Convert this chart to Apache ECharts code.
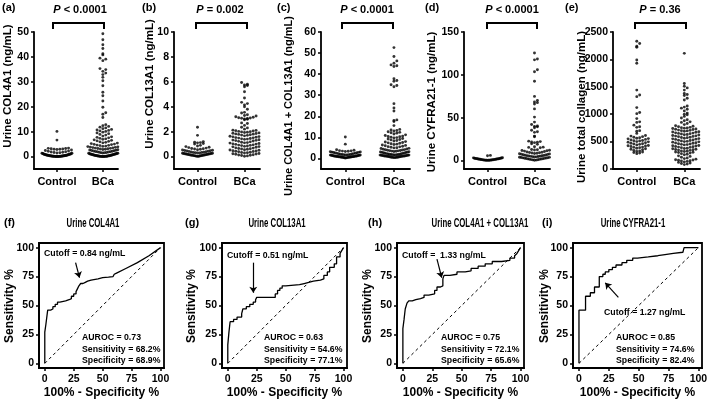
<!DOCTYPE html>
<html>
<head>
<meta charset="utf-8">
<script src="https://cdn.jsdelivr.net/npm/echarts@6/dist/echarts.min.js"></script>
<style>
html, body { margin: 0; padding: 0; background: #fff; }
#chart { width: 709px; height: 401px; }
</style>
</head>
<body>
<div id="chart"></div>
<script>
// ---- data ----
var groupNames = ['Control', 'BCa'];

var col4a1Control = [10.1, 6.6, 3.4, 3.3, 3.2, 3.1, 3.0, 2.9, 2.9, 2.8, 2.6, 2.4, 2.2, 2.1, 1.9, 1.8, 1.7, 1.6, 1.5, 1.4, 1.3, 1.3, 1.2, 1.1, 1.0, 1.0, 0.9, 0.9, 0.8, 0.8, 0.7, 0.7, 0.6, 0.6, 0.5, 0.5, 0.5, 0.4, 0.4, 0.4, 0.3, 0.3, 0.3, 0.3, 0.2, 0.2, 0.2, 0.2, 0.1, 0.1, 0.1, 0.1, 0.1, 0.05, 0.05, 0.05, 0.02, 0.02, 0.02, 0.01, 0.0];
var col4a1BCa = [49.3, 46.9, 44.9, 43.4, 41.3, 40.8, 39.5, 39.1, 38.5, 35.3, 34.9, 34.2, 33.5, 32.9, 31.8, 30.4, 28.4, 25.8, 24.4, 22.3, 19.8, 17.6, 17.0, 15.7, 12.8, 12.4, 12.1, 11.8, 11.5, 11.2, 10.9, 10.7, 10.5, 10.3, 10.1, 9.8, 9.5, 9.2, 8.9, 8.6, 8.2, 7.9, 7.7, 7.5, 7.3, 7.1, 6.9, 6.7, 6.5, 6.3, 6.1, 5.9, 5.7, 5.5, 5.4, 5.2, 5.0, 4.9, 4.8, 4.6, 4.5, 4.4, 4.2, 4.1, 4.0, 3.9, 3.8, 3.7, 3.6, 3.5, 3.4, 3.3, 3.2, 3.1, 3.0, 2.9, 2.8, 2.7, 2.6, 2.5, 2.4, 2.3, 2.2, 2.1, 2.0, 1.9, 1.9, 1.8, 1.7, 1.6, 1.5, 1.5, 1.4, 1.3, 1.3, 1.2, 1.1, 1.1, 1.0, 1.0, 0.9, 0.9, 0.8, 0.8, 0.7, 0.7, 0.6, 0.6, 0.5, 0.5, 0.4, 0.4, 0.4, 0.3, 0.3, 0.3, 0.2, 0.2, 0.2, 0.1, 0.1, 0.1, 0.05, 0.05, 0.05, 0.02, 0.02, 0.01, 0.0];

var col13a1Control = [2.35, 1.7, 1.2, 1.15, 1.12, 1.1, 1.05, 1.0, 0.9, 0.85, 0.8, 0.75, 0.72, 0.68, 0.65, 0.62, 0.6, 0.58, 0.55, 0.53, 0.5, 0.48, 0.46, 0.44, 0.42, 0.4, 0.38, 0.36, 0.35, 0.33, 0.32, 0.3, 0.29, 0.28, 0.27, 0.26, 0.25, 0.24, 0.23, 0.22, 0.21, 0.2, 0.19, 0.18, 0.17, 0.16, 0.15, 0.14, 0.13, 0.12, 0.11, 0.1, 0.09, 0.08, 0.07, 0.06, 0.05, 0.04, 0.03, 0.02, 0.01];
var col13a1BCa = [5.95, 5.8, 5.75, 5.7, 5.6, 5.2, 4.7, 4.35, 4.25, 4.15, 4.0, 3.8, 3.55, 3.5, 3.35, 3.3, 3.25, 3.2, 3.15, 3.12, 3.1, 3.08, 3.05, 3.02, 3.0, 2.95, 2.7, 2.65, 2.5, 2.35, 2.3, 2.2, 2.12, 2.1, 2.08, 2.05, 2.02, 2.0, 1.98, 1.95, 1.93, 1.9, 1.87, 1.85, 1.82, 1.8, 1.78, 1.75, 1.72, 1.7, 1.66, 1.63, 1.6, 1.58, 1.55, 1.52, 1.5, 1.48, 1.45, 1.42, 1.4, 1.38, 1.35, 1.32, 1.3, 1.28, 1.25, 1.22, 1.18, 1.15, 1.12, 1.1, 1.08, 1.05, 1.02, 1.0, 0.98, 0.94, 0.92, 0.9, 0.88, 0.85, 0.82, 0.8, 0.78, 0.75, 0.7, 0.68, 0.65, 0.62, 0.6, 0.58, 0.55, 0.52, 0.5, 0.46, 0.44, 0.42, 0.4, 0.38, 0.35, 0.32, 0.3, 0.28, 0.25, 0.22, 0.2, 0.18, 0.15, 0.12, 0.1, 0.08, 0.05, 0.02];

var sumControl = [10.2, 6.8, 4.1, 3.9, 3.7, 3.6, 3.5, 3.4, 3.3, 3.2, 3.1, 3.0, 2.9, 2.8, 2.7, 2.6, 2.5, 2.4, 2.3, 2.2, 2.1, 2.0, 1.9, 1.9, 1.8, 1.8, 1.7, 1.7, 1.6, 1.6, 1.5, 1.5, 1.4, 1.4, 1.3, 1.3, 1.2, 1.2, 1.1, 1.1, 1.0, 1.0, 0.95, 0.9, 0.9, 0.85, 0.8, 0.8, 0.75, 0.7, 0.7, 0.65, 0.6, 0.6, 0.55, 0.5, 0.45, 0.4, 0.35, 0.3, 0.2];
var sumBCa = [52.6, 48.4, 46.3, 45.2, 44.4, 44.0, 43.6, 37.8, 37.0, 36.6, 35.0, 34.6, 34.0, 26.0, 24.0, 22.5, 18.3, 18.0, 17.5, 15.6, 13.8, 13.5, 13.3, 13.0, 12.7, 12.4, 12.2, 12.0, 11.6, 11.2, 10.9, 10.6, 10.4, 10.3, 10.1, 9.9, 9.7, 9.5, 9.2, 9.0, 8.8, 8.5, 8.3, 8.0, 7.8, 7.6, 7.4, 7.2, 7.0, 6.8, 6.6, 6.4, 6.2, 6.0, 5.8, 5.6, 5.5, 5.3, 5.1, 5.0, 4.8, 4.7, 4.5, 4.4, 4.2, 4.1, 4.0, 3.9, 3.8, 3.7, 3.6, 3.5, 3.4, 3.3, 3.2, 3.1, 3.0, 2.9, 2.8, 2.7, 2.6, 2.5, 2.4, 2.3, 2.2, 2.1, 2.0, 2.0, 1.9, 1.9, 1.8, 1.8, 1.7, 1.7, 1.6, 1.6, 1.5, 1.5, 1.4, 1.4, 1.3, 1.3, 1.2, 1.2, 1.1, 1.1, 1.0, 1.0, 0.9, 0.9, 0.8, 0.8, 0.7, 0.7, 0.6, 0.6, 0.5, 0.5, 0.4, 0.4];

var cyfraControl = [5.9, 5.5, 3.2, 3.0, 2.8, 2.6, 2.5, 2.4, 2.2, 2.1, 2.0, 1.9, 1.8, 1.7, 1.6, 1.5, 1.4, 1.3, 1.2, 1.1, 1.0, 0.9, 0.8, 0.7, 0.6, 0.5, 0.45, 0.4, 0.35, 0.3, 0.25, 0.2, 0.15, 0.1];
var cyfraBCa = [125.4, 118.5, 117.5, 106.0, 103.5, 92.5, 74.8, 70.0, 68.2, 67.5, 66.0, 60.2, 50.6, 44.8, 42.0, 40.3, 39.8, 39.2, 38.2, 35.2, 33.5, 32.8, 28.4, 27.6, 22.5, 22.0, 21.6, 21.2, 20.8, 19.5, 18.8, 15.9, 15.5, 15.2, 14.8, 12.8, 12.5, 12.2, 11.9, 11.6, 11.3, 10.9, 10.5, 9.8, 9.5, 9.2, 9.0, 8.7, 8.4, 8.1, 7.8, 7.5, 7.2, 6.9, 6.6, 6.3, 6.0, 5.8, 5.6, 5.4, 5.2, 5.0, 4.8, 4.6, 4.4, 4.2, 4.0, 3.8, 3.6, 3.4, 3.2, 3.0, 2.8, 2.6, 2.4, 2.2, 2.0, 1.8, 1.6, 1.4, 1.2, 1.0, 0.8, 0.6, 0.4, 0.2];

var collagenControl = [2330, 2290, 2240, 2220, 1990, 1930, 1440, 1350, 1320, 1120, 1030, 1010, 920, 860, 850, 800, 770, 760, 700, 690, 650, 610, 600, 590, 580, 570, 560, 555, 550, 540, 530, 520, 515, 510, 500, 495, 490, 480, 470, 460, 455, 450, 440, 430, 425, 420, 410, 400, 395, 390, 380, 370, 360, 350, 340, 330, 320, 310, 300, 290, 280];
var collagenBCa = [2110, 1560, 1510, 1480, 1440, 1380, 1360, 1340, 1290, 1260, 1150, 1130, 1110, 1090, 1060, 1020, 1000, 990, 960, 930, 900, 880, 860, 850, 830, 810, 790, 780, 770, 760, 755, 750, 745, 740, 730, 725, 720, 710, 705, 700, 695, 690, 680, 675, 670, 660, 655, 650, 645, 640, 630, 625, 620, 610, 605, 600, 595, 590, 580, 575, 570, 560, 555, 550, 545, 540, 530, 525, 520, 510, 505, 500, 495, 490, 480, 475, 470, 460, 455, 450, 445, 440, 430, 425, 420, 410, 405, 400, 395, 390, 380, 375, 370, 360, 355, 350, 345, 340, 330, 325, 320, 310, 305, 300, 290, 280, 270, 260, 240, 230, 215, 200, 190, 180, 170, 165, 160, 150, 145, 140, 130, 120, 110, 100, 90, 80];

var col4a1Ticks = [0, 10, 20, 30, 40, 50];
var col13a1Ticks = [0, 2, 4, 6, 8, 10];
var sumTicks = [0, 10, 20, 30, 40, 50, 60];
var cyfraTicks = [0, 50, 100, 150];
var collagenTicks = [0, 500, 1000, 1500, 2000, 2500];
var rocTicks = [0, 25, 50, 75, 100];

// ROC curves: [100% - specificity, sensitivity]
var rocCol4a1 = [[0, 0], [0, 27], [1, 27], [1, 34], [2.5, 34], [2.5, 46], [5, 46], [5, 47], [7, 47], [7, 49], [9, 49], [9, 51], [11, 51], [11, 53], [13, 53], [13, 54], [18, 54], [18, 55], [21, 55], [21, 56], [23, 56], [23, 58], [25, 58], [25, 60], [27, 60], [27, 62], [28.5, 62], [28.5, 65], [29.5, 65], [29.5, 67], [31, 67], [31, 69], [33, 69], [33, 70], [35, 70], [35, 71], [37, 71], [37, 72], [40, 72], [40, 73], [46, 73], [50, 74], [55, 74.5], [59, 75], [60, 77], [62, 78], [70, 82], [80, 87], [90, 93], [100, 100]];
var rocCol13a1 = [[0, 0], [0, 16], [1, 16], [1, 27], [2, 27], [2, 36], [5, 36], [5, 38], [8, 38], [8, 40], [12, 40], [12, 43], [13, 43], [13, 47], [16, 47], [16, 49], [19, 49], [19, 51], [22, 51], [22, 53], [24, 53], [24, 55], [25, 55], [25, 57], [41, 57], [41, 60], [43, 60], [43, 63], [45, 63], [45, 65], [47, 65], [47, 67], [50, 67], [50, 68], [62, 68], [62, 69], [66, 69], [66, 70], [70, 70], [70, 71], [74, 71], [74, 72], [80, 72], [80, 73], [83, 73], [83, 76], [86, 76], [86, 79], [88, 79], [88, 83], [92, 83], [92, 86], [94, 86], [94, 92], [97, 92], [97, 95], [100, 100]];
var rocSum = [[0, 0], [0, 30], [1, 30], [1, 38], [2, 38], [2, 47], [3.5, 47], [3.5, 52], [5, 52], [5, 54], [8, 54], [8, 55], [11, 55], [11, 56], [15, 56], [15, 57], [18, 57], [18, 59], [22, 59], [22, 60], [27, 60], [27, 63], [29, 63], [29, 66], [32, 66], [32, 67], [34, 67], [34, 73], [35, 73], [35, 76], [40, 76], [40, 77], [46, 77], [46, 79], [53, 79], [53, 80], [58, 80], [58, 82], [64, 82], [64, 84], [70, 84], [70, 86], [76, 86], [76, 88], [84, 88], [84, 89], [91, 89], [91, 91], [95, 91], [95, 93], [97, 95], [100, 100]];
var rocCyfra = [[0, 0], [0, 46], [5.5, 46], [5.5, 58], [9.5, 58], [9.5, 61], [13, 61], [13, 66], [17, 66], [17, 75], [20, 75], [20, 77], [22, 77], [22, 79], [25, 79], [25, 81], [28, 81], [28, 83], [31, 83], [31, 85], [36, 85], [36, 87], [40, 87], [40, 89], [45, 89], [45, 91], [49, 91], [49, 92], [58, 92], [58, 93], [66, 93], [66, 94], [72, 94], [72, 95], [79, 95], [79, 96], [87, 96], [87, 97], [88, 97], [88, 100], [100, 100]];
var diagonal = [[0, 0], [100, 100]];

// cutoff arrows (tail, tip) in plot units
var arrowCol4a1 = [[26.6, 87], [30, 74]];
var arrowCol13a1 = [[22, 87], [22, 61]];
var arrowSum = [[29, 90], [33, 74]];
var arrowCyfra = [[33, 57], [22, 69.6]];

var statsCol4a1 = ['AUROC = 0.73', 'Sensitivity = 68.2%', 'Specificity = 68.9%'];
var statsCol13a1 = ['AUROC = 0.63', 'Sensitivity = 54.6%', 'Specificity = 77.1%'];
var statsSum = ['AUROC = 0.75', 'Sensitivity = 72.1%', 'Specificity = 65.6%'];
var statsCyfra = ['AUROC = 0.85', 'Sensitivity = 74.6%', 'Specificity = 82.4%'];

// ---- layout ----
var FONT = '"Liberation Sans", Arial, sans-serif';
var X_MIN = 0.5, X_MAX = 2.33;
var TOP = 32, BOTTOM = 169;
var ROW_PX = 3.4, DOT_STEP = 2.9, MAX_HALF = 15;

var scatterPanels = [
    { letter: '(a)', yName: 'Urine COL4A1 (ng/mL)', pText: '< 0.0001', control: col4a1Control, bca: col4a1BCa, ticks: col4a1Ticks, yMin: -5, yMax: 50,
      left: 34, width: 84, letterX: 2, pX: 80, bracket: [53, 104], nameX: 8, nameY: 86, nameSize: 11.5 },
    { letter: '(b)', yName: 'Urine COL13A1 (ng/mL)', pText: '= 0.002', control: col13a1Control, bca: col13a1BCa, ticks: col13a1Ticks, yMin: -1, yMax: 10,
      left: 174, width: 86, letterX: 142, pX: 220, bracket: [196, 247], nameX: 150, nameY: 84, nameSize: 11.5 },
    { letter: '(c)', yName: 'Urine COL4A1 + COL13A1 (ng/mL)', pText: '< 0.0001', control: sumControl, bca: sumBCa, ticks: sumTicks, yMin: -5, yMax: 60,
      left: 321, width: 89, letterX: 277, pX: 367, bracket: [342, 393], nameX: 289, nameY: 106, nameSize: 11 },
    { letter: '(d)', yName: 'Urine CYFRA21-1 (ng/mL)', pText: '< 0.0001', control: cyfraControl, bca: cyfraBCa, ticks: cyfraTicks, yMin: -10, yMax: 150,
      left: 464, width: 86, letterX: 425, pX: 512, bracket: [487, 537], nameX: 432, nameY: 102, nameSize: 11.5 },
    { letter: '(e)', yName: 'Urine total collagen (ng/mL)', pText: '= 0.36', control: collagenControl, bca: collagenBCa, ticks: collagenTicks, yMin: 0, yMax: 2500,
      left: 613, width: 87, letterX: 565, pX: 660, bracket: [635, 686], nameX: 582, nameY: 107, nameSize: 11.5 }
];

var rocPanels = [
    { letter: '(f)', title: 'Urine COL4A1', curve: rocCol4a1, arrow: arrowCol4a1, cutoff: 'Cutoff = 0.84 ng/mL', stats: statsCol4a1,
      left: 39, width: 125, letterX: 4, titleX: 93, cutoffX: 44, cutoffY: 253, statsX: 82, nameX: 10 },
    { letter: '(g)', title: 'Urine COL13A1', curve: rocCol13a1, arrow: arrowCol13a1, cutoff: 'Cutoff = 0.51 ng/mL', stats: statsCol13a1,
      left: 222, width: 125, letterX: 185, titleX: 277, cutoffX: 227, cutoffY: 255, statsX: 264, nameX: 192 },
    { letter: '(h)', title: 'Urine COL4A1 + COL13A1', curve: rocSum, arrow: arrowSum, cutoff: 'Cutoff =  1.33 ng/mL', stats: statsSum,
      left: 397, width: 127, letterX: 368, titleX: 480, cutoffX: 402, cutoffY: 255, statsX: 441, nameX: 368 },
    { letter: '(i)', title: 'Urine CYFRA21-1', curve: rocCyfra, arrow: arrowCyfra, cutoff: 'Cutoff = 1.27 ng/mL', stats: statsCyfra,
      left: 573, width: 129, letterX: 542, titleX: 633, cutoffX: 604, cutoffY: 312, statsX: 616, nameX: 545 }
];

/**
 * Prism-like dot layout: values binned in rows, spread sideways from the group centre
 */
function swarm(values, center, pxX, pxY) {
    var sorted = values.slice().sort(function(a, b) { return a - b; });
    var rows = {};
    sorted.forEach(function(v) {
        var k = Math.floor(v * pxY / ROW_PX);
        (rows[k] = rows[k] || []).push(v);
    });
    var points = [];
    Object.keys(rows).forEach(function(k) {
        var row = rows[k];
        var half = Math.ceil((row.length - 1) / 2);
        var step = half > 0 ? Math.min(DOT_STEP, MAX_HALF / half) : 0;
        row.forEach(function(v, i) {
            var j = Math.ceil(i / 2) * (i % 2 ? 1 : -1);
            points.push([center + j * step / pxX, v]);
        });
    });
    return points;
}

function axisStyle(ticks) {
    return {
        axisLine: { show: true, onZero: false, lineStyle: { color: '#000', width: 1.8 } },
        axisTick: { show: true, length: 3, customValues: ticks, lineStyle: { color: '#000', width: 1.5 } },
        splitLine: { show: false },
        axisLabel: {
            customValues: ticks, margin: 5, color: '#000', fontWeight: 'bold', fontSize: 10.5, fontFamily: FONT,
            formatter: function(v) { return String(v); }
        }
    };
}

function txt(x, y, text, size, opts) {
    opts = opts || {};
    return {
        type: 'text', x: x, y: y, rotation: opts.rotation || 0, scaleX: opts.scaleX || 1, silent: true,
        style: {
            text: text, fill: '#000', fontSize: size, fontWeight: 'bold', fontFamily: FONT,
            align: opts.align || 'left', verticalAlign: opts.verticalAlign || 'middle',
            lineHeight: opts.lineHeight, rich: opts.rich
        }
    };
}

var grids = [], xAxes = [], yAxes = [], series = [], graphics = [];

scatterPanels.forEach(function(p, i) {
    var height = BOTTOM - TOP;
    grids.push({ left: p.left, top: TOP, width: p.width, height: height, outerBoundsMode: 'none' });
    var xa = axisStyle([1, 2]);
    xa.gridIndex = i; xa.type = 'value'; xa.min = X_MIN; xa.max = X_MAX;
    xa.axisLabel.margin = 7; xa.axisLabel.fontSize = 11;
    xa.axisLabel.formatter = function(v) { return groupNames[Math.round(v) - 1]; };
    xAxes.push(xa);
    var ya = axisStyle(p.ticks);
    ya.gridIndex = i; ya.type = 'value'; ya.min = p.yMin; ya.max = p.yMax;
    yAxes.push(ya);

    var pxX = p.width / (X_MAX - X_MIN);
    var pxY = height / (p.yMax - p.yMin);
    [p.control, p.bca].forEach(function(vals, g) {
        series.push({
            type: 'scatter', xAxisIndex: i, yAxisIndex: i, symbolSize: 2.9, silent: true,
            itemStyle: { color: '#000' },
            data: swarm(vals, g + 1, pxX, pxY)
        });
    });

    graphics.push(txt(p.letterX, 8, p.letter, 11));
    graphics.push(txt(p.pX, 10, '{i|P} ' + p.pText, 11, {
        align: 'center', rich: { i: { fontStyle: 'italic', fontWeight: 'bold', fontSize: 11, fontFamily: FONT } }
    }));
    graphics.push({
        type: 'polyline', silent: true,
        shape: { points: [[p.bracket[0], 29], [p.bracket[0], 23], [p.bracket[1], 23], [p.bracket[1], 29]] },
        style: { stroke: '#000', lineWidth: 2, fill: null }
    });
    graphics.push(txt(p.nameX, p.nameY, p.yName, p.nameSize, { rotation: Math.PI / 2, align: 'center' }));
});

rocPanels.forEach(function(p, k) {
    var i = scatterPanels.length + k;
    grids.push({ left: p.left, top: 243, width: p.width, height: 125, outerBoundsMode: 'none',
        show: true, borderColor: '#000', borderWidth: 1.8, backgroundColor: 'transparent' });
    var xa = axisStyle(rocTicks);
    xa.gridIndex = i; xa.type = 'value'; xa.min = -5; xa.max = 103; xa.axisLabel.margin = 6;
    xAxes.push(xa);
    var ya = axisStyle(rocTicks);
    ya.gridIndex = i; ya.type = 'value'; ya.min = -4; ya.max = 104;
    yAxes.push(ya);

    series.push({
        type: 'line', xAxisIndex: i, yAxisIndex: i, data: diagonal, symbol: 'none', silent: true,
        lineStyle: { color: '#000', width: 1, type: [3, 3] }
    });
    series.push({
        type: 'line', xAxisIndex: i, yAxisIndex: i, data: p.curve, symbol: 'none', silent: true,
        lineStyle: { color: '#000', width: 1.3 },
        markLine: {
            silent: true, symbol: ['none', 'arrow'], symbolSize: 6, label: { show: false },
            lineStyle: { color: '#000', width: 1.2, type: 'solid' },
            data: [[{ coord: p.arrow[0] }, { coord: p.arrow[1] }]]
        }
    });

    var cx = p.left + p.width / 2;
    graphics.push(txt(p.letterX, 223, p.letter, 11));
    graphics.push(txt(p.titleX, 224, p.title, 12, { align: 'center', scaleX: 0.65 }));
    graphics.push(txt(p.cutoffX, p.cutoffY, p.cutoff, 9.5, { scaleX: 0.92 }));
    graphics.push(txt(p.statsX, 332, p.stats.join('\n'), 9.5, { verticalAlign: 'top', lineHeight: 11.5, scaleX: 0.92 }));
    graphics.push(txt(cx, 393, '100% - Specificity %', 12, { align: 'center' }));
    graphics.push(txt(p.nameX, 306, 'Sensitivity %', 12, { rotation: Math.PI / 2, align: 'center' }));
});

var chart = echarts.init(document.getElementById('chart'));
chart.setOption({
    animation: false,
    backgroundColor: '#fff',
    grid: grids,
    xAxis: xAxes,
    yAxis: yAxes,
    series: series,
    graphic: graphics
});
</script>
</body>
</html>
